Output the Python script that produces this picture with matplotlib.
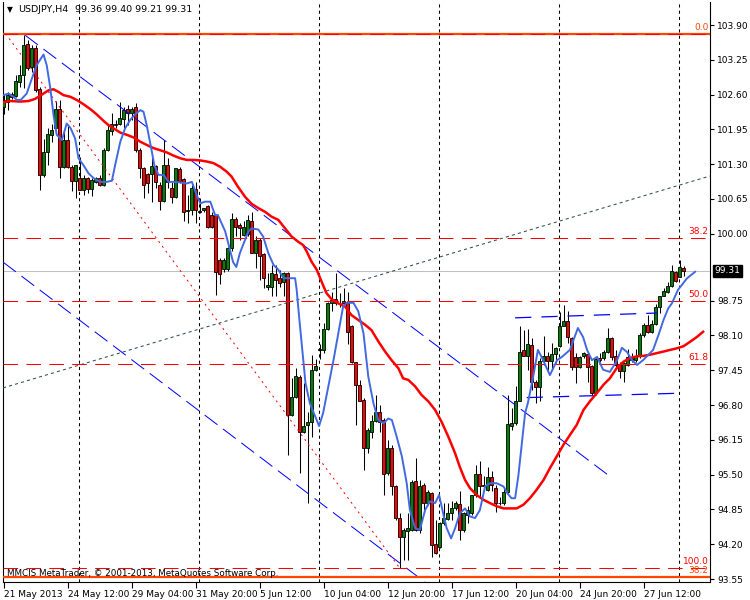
import numpy as np
import matplotlib.pyplot as plt
from matplotlib.transforms import blended_transform_factory

plt.rcParams['font.family'] = ['DejaVu Sans']

# USDJPY H4 candles (bar 0 = 21 May 2013)
opens = [102.36, 102.46, 102.61, 102.58, 102.84, 102.97, 103.55, 103.12, 103.48, 102.70,
         101.09, 101.53, 101.85, 101.98, 102.34, 101.25, 101.76, 101.24, 100.99, 101.04,
         100.81, 101.04, 100.84, 100.97, 101.05, 100.91, 101.56, 101.92, 102.06, 102.06,
         102.14, 102.34, 102.25, 102.36, 101.56, 101.22, 101.12, 101.11, 101.26, 100.92,
         100.62, 101.28, 100.85, 100.69, 101.21, 101.02, 100.44, 100.44, 100.84, 100.43,
         100.44, 100.52, 100.35, 100.35, 99.51, 99.34, 99.34, 99.73, 100.27, 100.17,
         99.98, 100.00, 100.23, 99.65, 99.89, 99.62, 99.01, 99.01, 99.24, 99.17,
         99.09, 99.26, 96.62, 96.96, 97.33, 96.30, 96.42, 96.49, 97.46, 97.82,
         97.82, 98.22, 98.70, 98.78, 98.71, 98.74, 98.70, 98.27, 97.60, 97.18,
         96.90, 95.99, 96.30, 96.50, 96.67, 96.52, 95.53, 95.99, 95.29, 94.69,
         94.33, 94.44, 94.47, 95.38, 94.47, 95.31, 94.97, 95.15, 94.21, 94.14,
         94.59, 94.67, 94.79, 94.87, 94.96, 94.47, 94.75, 94.78, 95.12, 95.52,
         95.30, 95.22, 95.45, 95.25, 94.98, 94.97, 95.17, 96.41, 96.46, 96.88,
         97.83, 97.72, 97.93, 97.24, 97.13, 97.63, 97.72, 97.63, 97.76, 97.91,
         98.28, 98.37, 98.05, 97.70, 97.51, 97.71, 97.76, 97.53, 97.02, 97.68,
         97.68, 97.80, 98.05, 97.71, 97.56, 97.43, 97.55, 97.65, 97.65, 97.72,
         98.11, 98.30, 98.17, 98.32, 98.63, 98.84, 98.92, 99.02, 99.28, 99.19,
         99.36]
highs = [102.62, 102.65, 102.65, 102.97, 103.15, 103.71, 103.62, 103.53, 103.53, 102.75,
         101.78, 101.97, 102.06, 102.48, 102.50, 101.91, 102.03, 101.28, 101.28, 101.44,
         101.10, 101.07, 101.04, 101.07, 101.09, 101.60, 102.03, 102.25, 102.13, 102.47,
         102.37, 102.41, 102.37, 102.44, 101.60, 101.25, 101.13, 101.41, 101.28, 100.97,
         101.76, 101.41, 100.97, 101.23, 101.25, 101.04, 100.72, 100.91, 100.97, 100.66,
         100.49, 100.54, 100.41, 100.35, 99.54, 99.54, 99.76, 100.38, 100.31, 100.20,
         100.23, 100.35, 100.41, 99.95, 99.92, 99.64, 99.26, 99.42, 99.42, 99.33,
         99.29, 99.29, 97.30, 97.49, 97.36, 97.21, 96.68, 97.74, 97.66, 97.95,
         98.33, 98.73, 98.92, 99.26, 98.89, 98.98, 98.92, 98.30, 97.61, 97.27,
         96.93, 96.37, 96.62, 96.98, 96.80, 96.55, 96.15, 96.06, 95.31, 94.78,
         94.50, 94.78, 95.40, 95.81, 95.40, 95.34, 95.22, 95.18, 94.65, 94.62,
         94.97, 94.97, 95.00, 95.00, 95.19, 94.81, 94.91, 95.12, 95.68, 95.75,
         95.47, 95.65, 95.56, 95.31, 95.08, 95.25, 96.99, 96.74, 97.15, 98.27,
         98.21, 98.22, 98.05, 97.27, 97.68, 98.09, 97.80, 97.96, 97.88, 98.53,
         98.67, 98.55, 98.08, 97.77, 97.71, 97.80, 97.80, 97.55, 97.68, 97.77,
         97.83, 98.24, 98.08, 97.83, 97.60, 97.61, 97.84, 97.77, 97.84, 98.14,
         98.33, 98.49, 98.39, 98.69, 98.84, 98.98, 99.09, 99.41, 99.31, 99.51,
         99.40]
lows = [102.23, 102.31, 102.52, 102.56, 102.75, 102.72, 103.06, 103.03, 102.65, 100.81,
        101.07, 101.28, 101.72, 101.97, 101.05, 101.22, 101.22, 100.80, 100.66, 100.82,
        100.72, 100.76, 100.71, 100.94, 100.89, 100.90, 101.55, 101.85, 101.97, 102.03,
        101.97, 102.03, 102.13, 101.53, 101.04, 100.67, 100.76, 100.60, 100.86, 100.44,
        100.60, 100.85, 100.57, 100.66, 100.94, 100.23, 100.20, 100.35, 100.20, 100.38,
        100.41, 100.10, 100.10, 98.86, 99.06, 99.29, 99.30, 99.67, 99.95, 99.89,
        99.95, 99.95, 99.64, 99.36, 99.14, 98.98, 98.95, 98.83, 98.83, 99.01,
        98.83, 95.87, 96.59, 96.93, 95.53, 96.27, 94.97, 96.21, 97.43, 97.67,
        97.78, 98.20, 98.55, 98.67, 98.64, 98.67, 97.95, 97.58, 96.43, 96.87,
        95.59, 95.90, 96.18, 96.49, 96.30, 95.12, 95.50, 95.12, 94.65, 93.75,
        93.91, 93.91, 94.44, 94.44, 94.41, 94.78, 94.93, 93.97, 94.02, 94.13,
        94.56, 94.65, 94.65, 94.84, 94.28, 94.42, 94.59, 94.75, 95.09, 95.09,
        95.22, 95.19, 95.19, 94.81, 94.94, 94.94, 95.15, 96.34, 96.43, 96.87,
        97.71, 97.46, 97.08, 96.84, 96.87, 97.55, 97.46, 97.46, 97.58, 97.89,
        98.27, 97.96, 97.46, 97.21, 97.49, 97.68, 97.24, 96.99, 96.99, 97.61,
        97.65, 97.77, 97.65, 97.52, 97.30, 97.24, 97.53, 97.61, 97.61, 97.68,
        98.08, 98.14, 98.14, 98.30, 98.52, 98.83, 98.89, 99.00, 99.10, 99.19,
        99.21]
closes = [102.50, 102.59, 102.56, 102.85, 102.97, 103.53, 103.10, 103.48, 102.69, 101.09,
          101.53, 101.86, 101.94, 102.34, 101.25, 101.75, 101.25, 100.99, 101.28, 100.82,
          101.05, 100.84, 101.00, 101.05, 100.91, 101.56, 101.94, 102.06, 102.03, 102.16,
          102.32, 102.25, 102.34, 101.56, 101.22, 100.92, 100.94, 101.27, 100.96, 100.62,
          101.28, 100.96, 100.68, 101.22, 100.99, 100.40, 100.43, 100.85, 100.44, 100.41,
          100.48, 100.13, 100.13, 99.29, 99.24, 99.51, 99.73, 100.27, 100.13, 100.10,
          100.13, 100.25, 99.65, 99.89, 99.59, 99.17, 99.04, 99.26, 99.14, 99.08,
          99.26, 96.62, 96.96, 97.34, 96.30, 96.41, 96.49, 97.46, 97.53, 97.84,
          98.22, 98.71, 98.76, 98.70, 98.70, 98.70, 98.17, 97.60, 97.18, 96.88,
          95.99, 96.34, 96.50, 96.67, 96.49, 95.51, 95.99, 95.29, 94.69, 94.34,
          94.47, 94.50, 95.37, 94.47, 95.29, 94.97, 95.17, 94.19, 94.04, 94.59,
          94.69, 94.78, 94.87, 94.97, 94.47, 94.78, 94.84, 95.12, 95.52, 95.28,
          95.28, 95.45, 95.31, 94.97, 94.97, 95.17, 96.45, 96.47, 96.88, 97.79,
          97.72, 97.94, 97.24, 97.13, 97.63, 97.72, 97.63, 97.75, 97.86, 98.28,
          98.37, 98.07, 97.51, 97.52, 97.70, 97.77, 97.52, 97.03, 97.66, 97.65,
          97.80, 98.05, 97.70, 97.55, 97.43, 97.58, 97.70, 97.70, 97.72, 98.11,
          98.30, 98.17, 98.32, 98.64, 98.84, 98.93, 99.02, 99.30, 99.11, 99.38,
          99.31]

# fast moving average (blue)
blue_ma_x = [0, 1.25, 2.5, 3.3, 4.3, 5.8, 7.1, 8.3, 10, 10.8, 11.7, 12.5, 13.3, 14.6, 15.8,
             16.8, 17.9, 18.75, 20, 21.25, 22.5, 24.2, 25.8, 27.1, 27.9, 29.2, 30.4, 31.7,
             32.9, 34.2, 35, 35.8, 37.1, 37.7, 38.75, 40, 41.25, 42.5, 44.2, 45.8, 47.1,
             48.3, 49.2, 50.4, 51.7, 52.9, 53.6, 55.4, 56.1, 57.4, 58.2, 59.1, 60.4, 61.2,
             62, 63.7, 64.9, 66.2, 67.5, 68.7, 70, 72.9, 73.3, 73.9, 74.7, 75.5, 76.6,
             77.9, 78.9, 79.9, 81.2, 82.5, 83.7, 84.9, 85.8, 87.5, 88.7, 90, 91.2, 92.5,
             93.7, 95, 96.2, 97.1, 98.3, 99.6, 100.8, 101.6, 102.9, 104.1, 105.4, 106.6,
             107.9, 108.9, 110, 110.8, 111.9, 112.9, 114.1, 115.4, 116.6, 117.9, 119.1,
             120.4, 121.6, 123.3, 125, 126, 127, 127.9, 128.7, 129.6, 130.4, 131.1, 132.4,
             133.6, 134.9, 136.6, 138.4, 139.6, 141.6, 143.6, 144.9, 145.9, 147.1, 148.4,
             149.9, 151.6, 153.4, 154.6, 155.9, 157.1, 158.4, 159.9, 162.4, 163.7, 165,
             166.2, 167.1, 168.6, 170.9, 172.9]
blue_ma_y = [102.59, 102.62, 102.56, 102.50, 102.50, 102.62, 102.90, 103.15, 103.35, 103.15,
             102.72, 102.22, 101.85, 101.75, 102.06, 101.97, 101.78, 101.41, 101.28, 101.13,
             101.04, 100.97, 100.97, 100.99, 101.28, 101.72, 101.97, 102.13, 102.23, 102.31,
             102.28, 102.03, 101.53, 101.28, 101.10, 101.10, 100.97, 100.97, 100.96, 100.94,
             100.97, 100.72, 100.57, 100.60, 100.60, 100.35, 100.35, 100.05, 99.85, 99.47,
             99.38, 99.64, 99.89, 100.04, 100.10, 100.08, 99.95, 99.64, 99.42, 99.33,
             99.17, 99.17, 98.95, 98.45, 97.83, 97.21, 96.83, 96.59, 96.41, 96.65,
             97.15, 97.64, 98.14, 98.64, 98.71, 98.71, 98.55, 98.14, 97.33, 96.83,
             96.52, 96.46, 96.55, 96.52, 96.21, 95.84, 95.34, 94.84, 94.50, 94.47,
             94.84, 95.00, 94.97, 95.12, 94.75, 94.50, 94.31, 94.50, 94.78, 94.87,
             94.72, 94.69, 94.84, 95.28, 95.34, 95.34, 95.28, 95.15, 95.06, 95.06,
             95.47, 96.09, 96.65, 96.84, 97.32, 97.83, 97.64, 97.36, 97.64, 97.70,
             97.83, 98.24, 98.07, 97.83, 97.64, 97.70, 97.46, 97.42, 97.64, 97.87,
             97.79, 97.64, 97.55, 97.64, 97.83, 98.10, 98.39, 98.61, 98.70, 98.95,
             99.17, 99.29]

# slow moving average (red)
red_ma_x = [0, 1.7, 4.2, 6.25, 7.9, 9.6, 11.25, 12.5, 13.75, 15, 16.7, 18.3, 20, 21.7, 23.3,
            25, 26.25, 27.5, 29.2, 30.8, 32.5, 34.2, 35.8, 37.5, 39.2, 40.8, 42.5, 44.2,
            45.8, 47.5, 49.2, 50.8, 52.5, 54.2, 55.8, 57, 58.6, 60.4, 62, 63.7, 65.4, 67,
            68.7, 70.4, 72, 73.7, 74.9, 75.8, 77, 78.3, 79.5, 80.75, 82, 83.7, 85.4, 87,
            88.7, 90.4, 92, 93.7, 95.4, 97, 98.7, 99.9, 101.2, 102.9, 104.5, 106.2, 107.9,
            109.5, 111.2, 112.9, 114.1, 115.4, 116.6, 118.3, 120, 121.6, 123.3, 125, 126.6,
            128.3, 130, 131.6, 133.3, 135, 136.6, 138.3, 140, 141.6, 143.3, 145, 146.6,
            148.3, 150, 151.6, 153.3, 155, 156.6, 158.3, 160, 161.6, 163.3, 165, 166.6,
            168.3, 170, 171.6, 173.3, 174.9]
red_ma_y = [102.46, 102.48, 102.47, 102.48, 102.52, 102.60, 102.68, 102.70, 102.65, 102.59,
            102.56, 102.50, 102.42, 102.33, 102.23, 102.11, 102.03, 101.97, 101.89, 101.85,
            101.80, 101.72, 101.66, 101.60, 101.56, 101.52, 101.46, 101.41, 101.38, 101.38,
            101.37, 101.35, 101.32, 101.25, 101.16, 101.07, 100.88, 100.69, 100.56, 100.48,
            100.41, 100.32, 100.26, 100.10, 99.95, 99.85, 99.79, 99.67, 99.48, 99.33,
            99.11, 98.89, 98.78, 98.70, 98.64, 98.48, 98.39, 98.30, 98.20, 97.99,
            97.80, 97.64, 97.49, 97.30, 97.27, 97.15, 96.99, 96.87, 96.71, 96.49,
            96.21, 95.90, 95.64, 95.40, 95.25, 95.12, 95.03, 94.97, 94.91, 94.87,
            94.87, 94.87, 94.94, 95.06, 95.22, 95.40, 95.62, 95.84, 96.06, 96.24,
            96.43, 96.71, 96.87, 97.02, 97.18, 97.30, 97.49, 97.61, 97.68, 97.71,
            97.72, 97.74, 97.77, 97.80, 97.83, 97.86, 97.90, 97.98, 98.07, 98.17]

price_ticks = [103.90, 103.25, 102.60, 101.95, 101.30, 100.65, 100.00,
               98.75, 98.10, 97.45, 96.80, 96.15, 95.50, 94.85, 94.20, 93.55]
time_bars = [0, 16, 32, 48, 64, 80, 96, 112, 128, 144, 160]
time_labels = ['21 May 2013', '24 May 12:00', '29 May 04:00', '31 May 20:00', '5 Jun 12:00',
               '10 Jun 04:00', '12 Jun 20:00', '17 Jun 12:00', '20 Jun 04:00',
               '24 Jun 20:00', '27 Jun 12:00']
separator_bars = [18.875, 48.875, 78.875, 108.875, 138.875, 168.875]

# objects drawn on the chart
fib_anchor_x = [0.5, 99]
fib_anchor_y = [103.74, 93.76]
fib_levels = [0.0, 38.2, 50.0, 61.8, 100.0]
orange_levels = [0.0, 38.2]
orange_prices = [103.74, 93.59]
channel_up_x, channel_up_y = [5.4, 152.1], [103.71, 95.44]
channel_dn_x, channel_dn_y = [-0.1, 105.4], [99.47, 93.49]
range_hi_x, range_hi_y = [127.9, 163.5], [98.43, 98.52]
range_lo_x, range_lo_y = [130.8, 168.3], [96.94, 97.02]
trend_x, trend_y = [-0.125, 176.6], [97.12, 101.08]
last_price = 99.31

fig = plt.figure(figsize=(7.5, 6), dpi=100)
ax = fig.add_axes([3 / 750, 18 / 600, 707 / 750, 580 / 600])
ax.set_xlim(-0.125, 176.625)
ax.set_ylim(93.495, 104.33)

# weekly separators
for b in separator_bars:
    ax.axvline(b, color='black', lw=0.75, ls=(0, (3, 3)), zorder=1)

# candles
idx = np.arange(len(opens))
o = np.array(opens)
c = np.array(closes)
body_col = np.where(c >= o, '#008000', '#FF0000')
ax.vlines(idx, lows, highs, color='black', lw=0.75, zorder=3)
ax.bar(idx, np.abs(c - o), bottom=np.minimum(o, c), width=0.6, color=body_col,
       edgecolor='black', linewidth=0.6, zorder=4)

# current price line
ax.axhline(last_price, color='#C0C0C0', lw=0.75, zorder=2)

# trend lines / channels
ax.plot(trend_x, trend_y, color='#2F4F4F', lw=0.75, ls=(0, (3, 3)), zorder=5)
ax.plot(channel_up_x, channel_up_y, color='#0000FF', lw=0.72, ls=(0, (16, 7)), zorder=5)
ax.plot(channel_dn_x, channel_dn_y, color='#0000FF', lw=0.72, ls=(0, (16, 7)), zorder=5)
ax.plot(range_hi_x, range_hi_y, color='#0000FF', lw=0.9, ls=(0, (13, 8)), zorder=5)
ax.plot(range_lo_x, range_lo_y, color='#0000FF', lw=0.9, ls=(0, (13, 8)), zorder=5)

# orange fibonacci
for lvl, p in zip(orange_levels, orange_prices):
    ax.axhline(p, color='#FF4500', lw=1.6, zorder=5)
    ax.text(176.3, p + 0.03, f'{lvl:.1f}', color='#FF4500', fontsize=6.5,
            ha='right', va='bottom', zorder=8)

# red fibonacci
top, bot = fib_anchor_y
ax.plot(fib_anchor_x, fib_anchor_y, color='#FF0000', lw=0.72, ls=(0, (2, 4)), zorder=5)
for lvl in fib_levels:
    p = top - (top - bot) * lvl / 100
    ax.axhline(p, color='#FF0000', lw=0.75, ls=(0, (14, 8)), zorder=6)
    if lvl > 0:
        ax.text(176.3, p + 0.03, f'{lvl:.1f}', color='#FF0000', fontsize=6.5,
                ha='right', va='bottom', zorder=8)

# moving averages
ax.plot(red_ma_x, red_ma_y, color='#FF0000', lw=1.8, zorder=7)
ax.plot(blue_ma_x, blue_ma_y, color='#4169E1', lw=1.4, zorder=7)

# axes
for s in ['left', 'right', 'bottom']:
    ax.spines[s].set_color('black')
    ax.spines[s].set_linewidth(0.8)
ax.spines['top'].set_visible(False)
ax.yaxis.tick_right()
ax.set_yticks(price_ticks)
ax.set_yticklabels([f'{p:.2f}' for p in price_ticks])
ax.set_xticks(time_bars)
ax.set_xticklabels(time_labels)
for lbl in ax.get_xticklabels():
    lbl.set_ha('left')
ax.tick_params(axis='y', length=3, width=0.8, pad=2, labelsize=6.5)
ax.tick_params(axis='x', length=4, width=0.8, pad=1.5, labelsize=6.5)

# last price box
trans = blended_transform_factory(ax.transAxes, ax.transData)
ax.text(1.006, last_price, f'{last_price:.2f}', transform=trans, color='white',
        fontsize=6.5, ha='left', va='center',
        bbox=dict(facecolor='black', edgecolor='black', pad=1.2), clip_on=False)

fig.text(7 / 750, 1 - 10 / 600, '\u25bc', fontsize=5.5, va='center', ha='left')
fig.text(18 / 750, 1 - 10 / 600, 'USDJPY,H4', fontsize=6.8, va='center', ha='left')
fig.text(75 / 750, 1 - 10 / 600, '99.36 99.40 99.21 99.31', fontsize=6.8, va='center', ha='left')
fig.text(7 / 750, 1 - 574 / 600, 'MMCIS MetaTrader, \u00a9 2001-2013, MetaQuotes Software Corp.',
         fontsize=6.3, va='center', ha='left', zorder=10)

fig.savefig('out.png', dpi=100)
